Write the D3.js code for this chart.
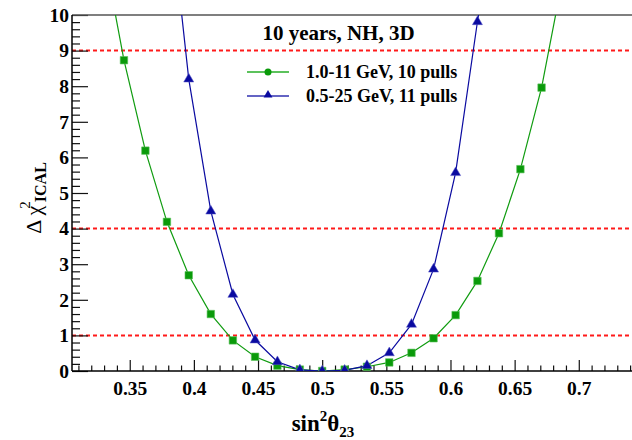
<!DOCTYPE html>
<html>
<head>
<meta charset="utf-8">
<script src="https://cdn.jsdelivr.net/npm/d3@7"></script>
<style>
    body { margin: 0; background: #fff; }
</style>
</head>
<body>
<div id="chart"></div>
<script>
//Datos
let sin2Green = [0.3290, 0.3455, 0.3622, 0.3790, 0.3960, 0.4132, 0.4304, 0.4477, 0.4651, 0.4826, 0.5000,
    0.5175, 0.5349, 0.5523, 0.5696, 0.5868, 0.6040, 0.6210, 0.6378, 0.6545, 0.6710, 0.6873];
let chiGreen = [11.9, 8.73, 6.19, 4.19, 2.69, 1.60, 0.86, 0.40, 0.15, 0.04, 0.0,
    0.04, 0.12, 0.24, 0.51, 0.92, 1.57, 2.53, 3.87, 5.67, 7.96, 11.0];

let sin2Blue = [0.3790, 0.3960, 0.4132, 0.4304, 0.4477, 0.4651, 0.4826, 0.5000,
    0.5175, 0.5349, 0.5523, 0.5696, 0.5868, 0.6040, 0.6210, 0.6378];
let chiBlue = [13.8, 8.20, 4.49, 2.15, 0.87, 0.26, 0.03, 0.0,
    0.02, 0.15, 0.51, 1.31, 2.86, 5.57, 9.81, 13.5];

let refLevels = [1, 4, 9];

let xMajorTicks = [0.35, 0.4, 0.45, 0.5, 0.55, 0.6, 0.65, 0.7];
let xMinorTicks = [0.31, 0.32, 0.33, 0.34, 0.36, 0.37, 0.38, 0.39, 0.41, 0.42, 0.43, 0.44, 0.46, 0.47, 0.48, 0.49,
    0.51, 0.52, 0.53, 0.54, 0.56, 0.57, 0.58, 0.59, 0.61, 0.62, 0.63, 0.64, 0.66, 0.67, 0.68, 0.69, 0.71, 0.72, 0.73, 0.74];
let yMajorTicks = [0, 1, 2, 3, 4, 5, 6, 7, 8, 9, 10];

let legendTitle = '10 years, NH, 3D';
let legendLabels = ['1.0-11 GeV, 10 pulls', '0.5-25 GeV, 11 pulls'];

const FONT = "'Liberation Serif', 'Times New Roman', serif";
const COLOR_GREEN = '#109c10',
    COLOR_GREEN_LEG = '#5cc25c',
    COLOR_BLUE = '#0a0aa0',
    COLOR_BLUE_LEG = '#6464c4',
    COLOR_RED = '#ff1a1a';

let W = 632, H = 440;
let margin = {top: 15, right: 0, bottom: 69, left: 72};

let svg = d3.select('#chart')
    .append('svg')
    .attr('width', W)
    .attr('height', H)
    .attr('font-family', FONT)
    .attr('font-weight', 'bold');

let x = d3.scaleLinear()
    .domain([0.305, 0.745])
    .range([margin.left, margin.left + 0.44 * 1283]);

let y = d3.scaleLinear()
    .domain([0, 10])
    .range([H - margin.bottom, margin.top]);

svg.append('clipPath')
    .attr('id', 'clip')
    .append('rect')
    .attr('x', margin.left)
    .attr('y', margin.top)
    .attr('width', W - margin.left)
    .attr('height', y(0) - margin.top);

//Lineas de referencia
svg.append('g')
    .selectAll('line')
    .data(refLevels)
    .enter()
    .append('line')
    .attr('x1', margin.left)
    .attr('x2', W)
    .attr('y1', function(d) { return y(d); })
    .attr('y2', function(d) { return y(d); })
    .attr('stroke', COLOR_RED)
    .attr('stroke-width', 2)
    .attr('stroke-dasharray', '4,3');

//Ejes
let yMinor = d3.range(0, 10.01, 0.2).filter(function(d) { return Math.abs(d - Math.round(d)) > 0.01; });

svg.append('g')
    .attr('transform', 'translate(0,' + y(0) + ')')
    .call(d3.axisBottom(x).tickValues(xMinorTicks).tickSize(-5.5).tickFormat(''))
    .call(function(g) { g.select('.domain').remove(); });

svg.append('g')
    .attr('class', 'xaxis')
    .attr('transform', 'translate(0,' + y(0) + ')')
    .call(d3.axisBottom(x).tickValues(xMajorTicks).tickSize(-11).tickPadding(10).tickFormat(function(d) { return String(d); }))
    .call(function(g) { g.select('.domain').remove(); });

svg.append('g')
    .attr('transform', 'translate(' + margin.left + ',0)')
    .call(d3.axisLeft(y).tickValues(yMinor).tickSize(-8).tickFormat(''))
    .call(function(g) { g.select('.domain').remove(); });

svg.append('g')
    .attr('class', 'yaxis')
    .attr('transform', 'translate(' + margin.left + ',0)')
    .call(d3.axisLeft(y).tickValues(yMajorTicks).tickSize(-16).tickPadding(3))
    .call(function(g) { g.select('.domain').remove(); });

svg.selectAll('g').attr('font-family', null).attr('font-size', null);
svg.selectAll('.tick line').attr('stroke', '#111').attr('stroke-width', 1.2);
svg.selectAll('.xaxis text, .yaxis text')
    .attr('font-size', 19.5)
    .attr('font-family', FONT)
    .attr('fill', '#000');

//Marco
svg.append('line')
    .attr('x1', margin.left).attr('x2', W)
    .attr('y1', y(10)).attr('y2', y(10))
    .attr('stroke', '#555').attr('stroke-width', 1.5);
svg.append('line')
    .attr('x1', margin.left).attr('x2', W)
    .attr('y1', y(0)).attr('y2', y(0))
    .attr('stroke', '#000').attr('stroke-width', 1.5);
svg.append('line')
    .attr('x1', margin.left).attr('x2', margin.left)
    .attr('y1', y(0)).attr('y2', y(10))
    .attr('stroke', '#000').attr('stroke-width', 1.5);

//Curvas
let line = d3.line()
    .x(function(d) { return x(d[0]); })
    .y(function(d) { return y(d[1]); });

let greenData = d3.zip(sin2Green, chiGreen);
let blueData = d3.zip(sin2Blue, chiBlue);

let plot = svg.append('g').attr('clip-path', 'url(#clip)');

plot.append('path')
    .datum(greenData)
    .attr('d', line)
    .attr('fill', 'none')
    .attr('stroke', COLOR_GREEN)
    .attr('stroke-width', 1.2);

plot.append('path')
    .datum(blueData)
    .attr('d', line)
    .attr('fill', 'none')
    .attr('stroke', COLOR_BLUE)
    .attr('stroke-width', 1.2);

plot.selectAll('.sq')
    .data(greenData)
    .enter()
    .append('path')
    .attr('class', 'sq')
    .attr('d', d3.symbol().type(d3.symbolSquare).size(56))
    .attr('transform', function(d) { return 'translate(' + x(d[0]) + ',' + y(d[1]) + ')'; })
    .attr('fill', '#0a9a0a')
    .attr('stroke', '#5cc25c')
    .attr('stroke-width', 0.6);

plot.selectAll('.tri')
    .data(blueData)
    .enter()
    .append('path')
    .attr('class', 'tri')
    .attr('d', d3.symbol().type(d3.symbolTriangle).size(44))
    .attr('transform', function(d) { return 'translate(' + x(d[0]) + ',' + y(d[1]) + ')'; })
    .attr('fill', COLOR_BLUE)
    .attr('stroke', '#5a5ac8')
    .attr('stroke-width', 0.5);

//Leyenda
svg.append('text')
    .attr('x', 338.5)
    .attr('y', 39.5)
    .attr('text-anchor', 'middle')
    .attr('font-size', 21)
    .text(legendTitle);

let legColors = [COLOR_GREEN_LEG, COLOR_BLUE_LEG];
let legY = [72, 96];

legendLabels.forEach(function(label, i) {
    svg.append('line')
        .attr('x1', 247).attr('x2', 289)
        .attr('y1', legY[i]).attr('y2', legY[i])
        .attr('stroke', legColors[i])
        .attr('stroke-width', 2);
    if (i == 0) {
        svg.append('circle')
            .attr('cx', 268).attr('cy', legY[i]).attr('r', 3.5)
            .attr('fill', '#0a9a0a');
    } else {
        svg.append('path')
            .attr('d', d3.symbol().type(d3.symbolTriangle).size(34))
            .attr('transform', 'translate(268,' + (legY[i] - 1) + ')')
            .attr('fill', COLOR_BLUE);
    }
    svg.append('text')
        .attr('x', 306)
        .attr('y', legY[i] + 6)
        .attr('font-size', 18)
        .text(label);
});

//Titulos de ejes
let xTitle = svg.append('text')
    .attr('x', 323)
    .attr('y', 431)
    .attr('text-anchor', 'middle')
    .attr('font-size', 23);
xTitle.append('tspan').text('sin');
xTitle.append('tspan').attr('font-size', 15).attr('dy', -10).text('2');
xTitle.append('tspan').attr('dy', 10).text('θ');
xTitle.append('tspan').attr('font-size', 15).attr('dy', 6).text('23');

let yTitle = svg.append('text')
    .attr('transform', 'translate(41,198) rotate(-90)')
    .attr('text-anchor', 'middle')
    .attr('font-size', 22);
yTitle.append('tspan').attr('font-weight', 'normal').text('Δ χ');
yTitle.append('tspan').attr('font-size', 15).attr('font-weight', 'normal').attr('dy', -11).attr('dx', -3).text('2');
yTitle.append('tspan').attr('font-size', 16).attr('dy', 16).attr('dx', -1).text('ICAL');
</script>
</body>
</html>
